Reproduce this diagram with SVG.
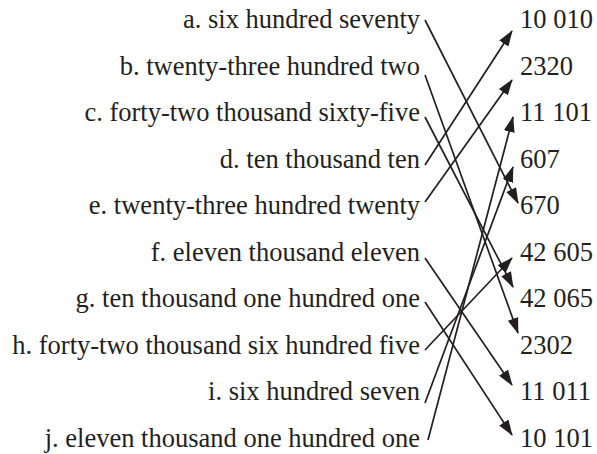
<svg xmlns="http://www.w3.org/2000/svg" width="597" height="454" viewBox="0 0 597 454">
<defs>
<marker id="ah" viewBox="0 0 16 11" refX="15" refY="5.5" markerWidth="16" markerHeight="11" markerUnits="userSpaceOnUse" orient="auto">
<path d="M0,0 L16,5.5 L0,11 z" fill="#231f20"/>
</marker>
</defs>
<style>
text{font-family:'Liberation Serif','Times New Roman',serif;font-size:26.5px;fill:#231f20}
.l{text-anchor:end}
.c line{stroke:#231f20;stroke-width:1.7;marker-end:url(#ah)}
</style>
<rect width="597" height="454" fill="#fff"/>
<g id="left">
<g id="a"><text class="l" x="420" y="28">a. six hundred seventy</text></g>
<g id="b"><text class="l" x="420" y="74.5">b. twenty-three hundred two</text></g>
<g id="c"><text class="l" x="420" y="121">c. forty-two thousand sixty-five</text></g>
<g id="d"><text class="l" x="420" y="167.5">d. ten thousand ten</text></g>
<g id="e"><text class="l" x="420" y="214">e. twenty-three hundred twenty</text></g>
<g id="f"><text class="l" x="420" y="260.5">f. eleven thousand eleven</text></g>
<g id="g"><text class="l" x="420" y="307">g. ten thousand one hundred one</text></g>
<g id="h"><text class="l" x="420" y="353.5">h. forty-two thousand six hundred five</text></g>
<g id="i"><text class="l" x="420" y="400">i. six hundred seven</text></g>
<g id="j"><text class="l" x="420" y="446.5">j. eleven thousand one hundred one</text></g>
</g>
<g id="right">
<g id="r1"><text x="520" y="28">10 010</text></g>
<g id="r2"><text x="520" y="74.5">2320</text></g>
<g id="r3"><text x="520" y="121">11 101</text></g>
<g id="r4"><text x="520" y="167.5">607</text></g>
<g id="r5"><text x="520" y="214">670</text></g>
<g id="r6"><text x="520" y="260.5">42 605</text></g>
<g id="r7"><text x="520" y="307">42 065</text></g>
<g id="r8"><text x="520" y="353.5">2302</text></g>
<g id="r9"><text x="520" y="400">11 011</text></g>
<g id="r10"><text x="520" y="446.5">10 101</text></g>
</g>
<g id="connectors" class="c">
<line x1="425" y1="20" x2="518" y2="203"/>
<line x1="425" y1="75" x2="518" y2="333"/>
<line x1="425" y1="117" x2="513" y2="287"/>
<line x1="425" y1="165" x2="512" y2="31"/>
<line x1="425" y1="202" x2="512" y2="80"/>
<line x1="425" y1="258" x2="512" y2="385"/>
<line x1="425" y1="302" x2="512" y2="435"/>
<line x1="425" y1="350" x2="512" y2="258"/>
<line x1="425" y1="403" x2="513" y2="167"/>
<line x1="428" y1="440" x2="513" y2="117"/>
</g>
</svg>
